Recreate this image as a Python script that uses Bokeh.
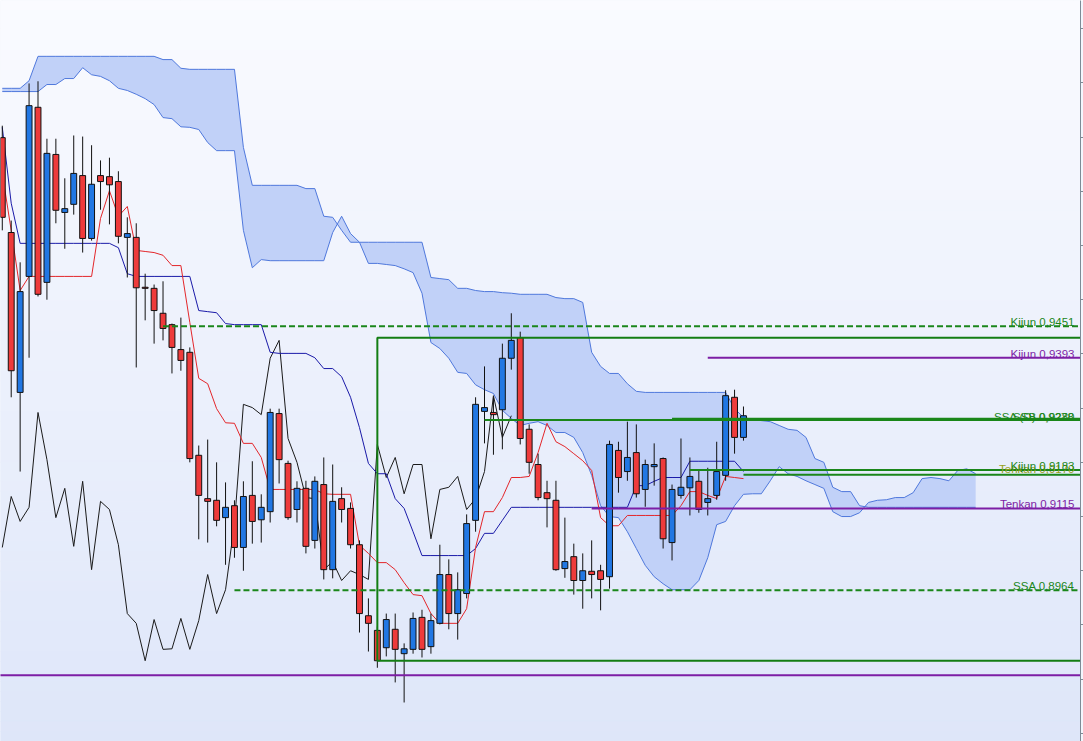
import numpy as np
from bokeh.plotting import figure
from bokeh.models import Range1d, LinearAxis, SingleIntervalTicker, ColumnDataSource, CustomJSTickFormatter
from bokeh.core.properties import value
from bokeh.embed import file_html
from bokeh.resources import INLINE

# ---------------- data (prices) ----------------
opens = [0.9799, 0.9624, 0.9329, 0.9543, 0.9855, 0.9532, 0.9768, 0.9661, 0.9676, 0.9729,
         0.9613, 0.9729, 0.9727, 0.9718, 0.9615, 0.9615, 0.9523, 0.9521, 0.9475, 0.9454,
         0.9408, 0.9403, 0.9213, 0.9133, 0.9130, 0.9098, 0.9120, 0.9043, 0.9139, 0.9094,
         0.9109, 0.9290, 0.9198, 0.9113, 0.9152, 0.9056, 0.9159, 0.9002, 0.9133, 0.9115,
         0.9048, 0.8917, 0.8890, 0.8858, 0.8892, 0.8847, 0.8855, 0.8914, 0.8860, 0.8903,
         0.8993, 0.8921, 0.8958, 0.9093, 0.9294, 0.9292, 0.9297, 0.9392, 0.9430, 0.9261,
         0.9196, 0.9144, 0.9130, 0.9004, 0.9026, 0.8982, 0.8999, 0.9000, 0.8989, 0.9222,
         0.9183, 0.9218, 0.9150, 0.9192, 0.9207, 0.9052, 0.9139, 0.9153, 0.9165, 0.9126,
         0.9139, 0.9176, 0.9320, 0.9246]
highs = [0.9821, 0.9646, 0.9569, 0.9899, 0.9903, 0.9797, 0.9797, 0.9724, 0.9803, 0.9801,
         0.9785, 0.9757, 0.9762, 0.9737, 0.9652, 0.9641, 0.9548, 0.9528, 0.9534, 0.9456,
         0.9467, 0.9412, 0.9231, 0.9242, 0.9200, 0.9163, 0.9130, 0.9165, 0.9202, 0.9141,
         0.9299, 0.9299, 0.9203, 0.9165, 0.9166, 0.9174, 0.9209, 0.9196, 0.9154, 0.9126,
         0.9056, 0.8949, 0.8897, 0.8921, 0.8921, 0.8866, 0.8923, 0.8928, 0.8921, 0.9048,
         0.9021, 0.8997, 0.9104, 0.9320, 0.9377, 0.9320, 0.9419, 0.9475, 0.9441, 0.9270,
         0.9216, 0.9166, 0.9166, 0.9098, 0.9050, 0.9032, 0.9056, 0.9011, 0.9240, 0.9238,
         0.9275, 0.9270, 0.9205, 0.9235, 0.9209, 0.9159, 0.9244, 0.9209, 0.9187, 0.9190,
         0.9238, 0.9333, 0.9334, 0.9303]
lows = [0.9628, 0.9320, 0.9183, 0.9393, 0.9506, 0.9500, 0.9641, 0.9594, 0.9657, 0.9587,
        0.9609, 0.9666, 0.9639, 0.9604, 0.9541, 0.9375, 0.9462, 0.9419, 0.9425, 0.9364,
        0.9369, 0.9200, 0.9058, 0.9052, 0.9082, 0.9011, 0.9024, 0.9000, 0.9050, 0.9052,
        0.9089, 0.9161, 0.9094, 0.9089, 0.9032, 0.9041, 0.8984, 0.8986, 0.9089, 0.9041,
        0.8886, 0.8851, 0.8821, 0.8842, 0.8794, 0.8757, 0.8847, 0.8840, 0.8847, 0.8901,
        0.8892, 0.8873, 0.8949, 0.9072, 0.9235, 0.9214, 0.9224, 0.9371, 0.9233, 0.9179,
        0.9130, 0.9080, 0.9000, 0.8987, 0.8956, 0.8930, 0.8949, 0.8927, 0.8967, 0.9144,
        0.9166, 0.9135, 0.9118, 0.9157, 0.9041, 0.9019, 0.9133, 0.9102, 0.9107, 0.9102,
        0.9131, 0.9166, 0.9216, 0.9240]
closes = [0.9652, 0.9369, 0.9515, 0.9858, 0.9510, 0.9770, 0.9665, 0.9668, 0.9733, 0.9613,
          0.9713, 0.9718, 0.9712, 0.9617, 0.9622, 0.9522, 0.9521, 0.9480, 0.9447, 0.9412,
          0.9388, 0.9207, 0.9139, 0.9128, 0.9093, 0.9117, 0.9043, 0.9137, 0.9091, 0.9117,
          0.9292, 0.9205, 0.9098, 0.9152, 0.9045, 0.9165, 0.9002, 0.9128, 0.9113, 0.9048,
          0.8921, 0.8903, 0.8834, 0.8910, 0.8855, 0.8856, 0.8912, 0.8855, 0.8908, 0.8993,
          0.8921, 0.8965, 0.9087, 0.9307, 0.9301, 0.9288, 0.9392, 0.9425, 0.9244, 0.9200,
          0.9135, 0.9133, 0.9002, 0.9017, 0.8982, 0.9000, 0.8993, 0.8984, 0.9233, 0.9172,
          0.9209, 0.9142, 0.9196, 0.9196, 0.9059, 0.9150, 0.9154, 0.9174, 0.9113, 0.9133,
          0.9183, 0.9323, 0.9246, 0.9286]

tenkan = [0.9733, 0.9628, 0.9517, 0.9543, 0.9543, 0.9543, 0.9543, 0.9543, 0.9543, 0.9543,
          0.9543, 0.9650, 0.9701, 0.9654, 0.9672, 0.9591, 0.9589, 0.9587, 0.9582, 0.9563,
          0.9563, 0.9458, 0.9355, 0.9345, 0.9299, 0.9273, 0.9272, 0.9235, 0.9235, 0.9209,
          0.9150, 0.9150, 0.9150, 0.9150, 0.9150, 0.9150, 0.9142, 0.9141, 0.9141, 0.9141,
          0.9047, 0.9032, 0.9015, 0.9015, 0.9002, 0.8978, 0.8956, 0.8954, 0.8921, 0.8903,
          0.8903, 0.8903, 0.8930, 0.9043, 0.9109, 0.9109, 0.9135, 0.9172, 0.9172, 0.9174,
          0.9218, 0.9272, 0.9238, 0.9229, 0.9216, 0.9203, 0.9185, 0.9098, 0.9083, 0.9083,
          0.9102, 0.9102, 0.9102, 0.9102, 0.9102, 0.9102, 0.9120, 0.9146, 0.9146, 0.9139,
          0.9133, 0.9174, 0.9172, 0.9170]
kijun = [0.9818, 0.9678, 0.9604, 0.9604, 0.9604, 0.9604, 0.9604, 0.9604, 0.9604, 0.9604,
         0.9604, 0.9604, 0.9604, 0.9596, 0.9548, 0.9543, 0.9543, 0.9543, 0.9543, 0.9543,
         0.9543, 0.9543, 0.9480, 0.9478, 0.9476, 0.9456, 0.9454, 0.9454, 0.9454, 0.9454,
         0.9403, 0.9401, 0.9401, 0.9401, 0.9401, 0.9393, 0.9373, 0.9373, 0.9358, 0.9320,
         0.9264, 0.9198, 0.9179, 0.9179, 0.9133, 0.9115, 0.9072, 0.9028, 0.9028, 0.9028,
         0.9028, 0.9028, 0.9028, 0.9041, 0.9069, 0.9069, 0.9093, 0.9117, 0.9117, 0.9117,
         0.9117, 0.9117, 0.9117, 0.9117, 0.9117, 0.9117, 0.9117, 0.9117, 0.9117, 0.9117,
         0.9117, 0.9157, 0.9157, 0.9165, 0.9172, 0.9172, 0.9172, 0.9202, 0.9202, 0.9202,
         0.9202, 0.9202, 0.9202, 0.9183]
# cloud values at their plotted (forward shifted) bar positions
senkou_a = [0.9884, 0.9884, 0.9884, 0.9884, 0.9884, 0.9897, 0.9897, 0.9908, 0.9908, 0.9928,
            0.9915, 0.9912, 0.9904, 0.9890, 0.9886, 0.9879, 0.9871, 0.9860, 0.9836, 0.9834,
            0.9819, 0.9818, 0.9814, 0.9790, 0.9775, 0.9775, 0.9775, 0.9628, 0.9559, 0.9574,
            0.9572, 0.9572, 0.9572, 0.9572, 0.9572, 0.9572, 0.9572, 0.9624, 0.9654, 0.9622,
            0.9606, 0.9567, 0.9567, 0.9565, 0.9563, 0.9557, 0.9550, 0.9512, 0.9421, 0.9410,
            0.9392, 0.9366, 0.9364, 0.9343, 0.9334, 0.9327, 0.9296, 0.9281, 0.9268, 0.9272,
            0.9275, 0.9268, 0.9255, 0.9255, 0.9246, 0.9218, 0.9176, 0.9120, 0.9100, 0.9098,
            0.9072, 0.9041, 0.9010, 0.8989, 0.8976, 0.8965, 0.8965, 0.8965, 0.8982, 0.9024,
            0.9085, 0.9091, 0.9120, 0.9141, 0.9142, 0.9142, 0.9166, 0.9192, 0.9179, 0.9174,
            0.9166, 0.9159, 0.9152, 0.9109, 0.9100, 0.9100, 0.9107, 0.9126, 0.9130, 0.9131,
            0.9135, 0.9135, 0.9144, 0.9170, 0.9172, 0.9170, 0.9166, 0.9185, 0.9188, 0.9179]
senkou_b = [0.9890, 0.9890, 0.9890, 0.9904, 0.9949, 0.9949, 0.9949, 0.9949, 0.9949, 0.9949,
            0.9949, 0.9949, 0.9949, 0.9949, 0.9949, 0.9949, 0.9949, 0.9949, 0.9943, 0.9943,
            0.9927, 0.9925, 0.9925, 0.9925, 0.9925, 0.9925, 0.9925, 0.9781, 0.9711, 0.9711,
            0.9711, 0.9711, 0.9711, 0.9711, 0.9705, 0.9705, 0.9654, 0.9652, 0.9628, 0.9606,
            0.9606, 0.9606, 0.9606, 0.9606, 0.9606, 0.9606, 0.9606, 0.9606, 0.9541, 0.9539,
            0.9537, 0.9521, 0.9521, 0.9517, 0.9515, 0.9515, 0.9513, 0.9512, 0.9510, 0.9510,
            0.9510, 0.9510, 0.9504, 0.9502, 0.9502, 0.9495, 0.9403, 0.9377, 0.9364, 0.9364,
            0.9345, 0.9331, 0.9329, 0.9329, 0.9329, 0.9329, 0.9329, 0.9329, 0.9329, 0.9329,
            0.9329, 0.9329, 0.9299, 0.9283, 0.9279, 0.9277, 0.9275, 0.9268, 0.9261, 0.9259,
            0.9246, 0.9207, 0.9200, 0.9154, 0.9146, 0.9146, 0.9120, 0.9117, 0.9117, 0.9117,
            0.9117, 0.9117, 0.9117, 0.9117, 0.9117, 0.9117, 0.9117, 0.9117, 0.9117, 0.9117]
chikou_shift = 26

# horizontal levels: price, first bar, label
level_prices = [0.9451, 0.9393, 0.9278, 0.9280, 0.9177, 0.9186, 0.9115, 0.8964, 0.8807]
level_start = [18, 79, 54, 75, 83, 77, 66, 26, -2]
level_labels = ["Kijun 0,9451", "Kijun 0,9393", "SSA (D) 0,9278", "SSB 0,9280",
                "Tenkan 0,9170", "Kijun 0,9183", "Tenkan 0,9115", "SSA 0,8964", ""]
box_start = 42
box_top = 0.9430
box_bottom = 0.8834

# ---------------- styling ----------------
GREEN = "#1a861a"
PURPLE = "#7d1ea5"
OLIVE = "#98a21c"
level_color = [GREEN, PURPLE, GREEN, GREEN, GREEN, GREEN, PURPLE, GREEN, PURPLE]
label_color = [GREEN, PURPLE, GREEN, GREEN, OLIVE, GREEN, PURPLE, GREEN, PURPLE]
level_dash = ["6 3", "solid", "solid", "solid", "solid", "solid", "solid", "6 3", "solid"]
level_width = [2, 2, 2, 2.5, 2, 2, 2, 2, 2]
label_yoff = [-4, -4, -3, -2, -6, -4, -4, -4, -4]

X_START, X_END = -0.2, 120.74
Y_BOTTOM, Y_TOP = 0.8685, 1.0052

p = figure(width=1083, height=741, output_backend="svg", toolbar_location=None,
           x_range=Range1d(X_START, X_END), y_range=Range1d(Y_BOTTOM, Y_TOP),
           x_axis_location=None, y_axis_location=None,
           min_border_left=0, min_border_right=0, min_border_top=0, min_border_bottom=0)
p.outline_line_color = None
p.border_fill_color = "#f3f6fd"
p.background_fill_color = "#eef2fc"

# gradient background
N_STRIPS = 74
edges = np.linspace(Y_TOP, Y_BOTTOM, N_STRIPS + 1)
tt = (np.arange(N_STRIPS) + 0.5) / N_STRIPS
c_top = np.array([250, 251, 255])
c_bot = np.array([222, 230, 249])
strip_cols = ["#%02x%02x%02x" % tuple(int(round(v)) for v in (c_top + (c_bot - c_top) * t)) for t in tt]
p.quad(left=X_START, right=X_END, top=edges[:-1], bottom=edges[1:],
       fill_color=strip_cols, line_color=strip_cols, line_width=1)

# right price axis (its labels lie outside the window in the original)
ax = LinearAxis(ticker=SingleIntervalTicker(interval=0.01, num_minor_ticks=0),
                formatter=CustomJSTickFormatter(code="return ''"),
                major_tick_out=3, major_tick_in=0, minor_tick_out=0, minor_tick_in=0,
                major_label_standoff=0,
                axis_line_color="#7e8b96", major_tick_line_color="#7e8b96")
p.add_layout(ax, "right")

# cloud
cx = np.arange(len(senkou_a))
p.varea(x=cx, y1=senkou_a, y2=senkou_b, fill_color="#c1d1f8", fill_alpha=1.0)
p.line(cx, senkou_a, line_color="#4f78dc", line_width=1)
p.line(cx, senkou_b, line_color="#4f78dc", line_width=1)

idx = np.arange(len(closes))
# chikou span: close plotted 26 bars back
p.line(idx[:len(closes) - chikou_shift], closes[chikou_shift:], line_color="#1a1a1a", line_width=1)
# kijun / tenkan
p.line(idx, kijun, line_color="#1a1aa8", line_width=1)
p.line(idx, tenkan, line_color="#e3262a", line_width=1)

# candles
o = np.array(opens)
c = np.array(closes)
csrc = ColumnDataSource(dict(
    x=idx, high=highs, low=lows,
    top=np.maximum(o, c), bottom=np.minimum(o, c),
    color=["#2177e3" if ci >= oi else "#ee3b3b" for oi, ci in zip(opens, closes)]))
p.segment(x0="x", y0="low", x1="x", y1="high", source=csrc, line_color="#111111", line_width=1)
p.vbar(x="x", width=0.66, top="top", bottom="bottom", source=csrc,
       fill_color="color", line_color="#111111", line_width=1)

# levels
for pr, st, col, dash, w in zip(level_prices, level_start, level_color, level_dash, level_width):
    p.line([st, X_END + 5], [pr, pr], line_color=col, line_dash=dash, line_width=w)

# box
p.line([X_END + 5, box_start, box_start, X_END + 5], [box_top, box_top, box_bottom, box_bottom],
       line_color="#137d13", line_width=2)

lsrc = ColumnDataSource(dict(x=[X_END] * len(level_prices), y=level_prices, text=level_labels,
                             color=label_color, yoff=label_yoff))
p.text(x="x", y="y", text="text", source=lsrc, text_color="color", text_align="right",
       text_baseline="alphabetic", x_offset=-6, y_offset="yoff",
       text_font=value("Liberation Sans"), text_font_size="11.5px")

open("out.html", "w").write(file_html(p, INLINE))
